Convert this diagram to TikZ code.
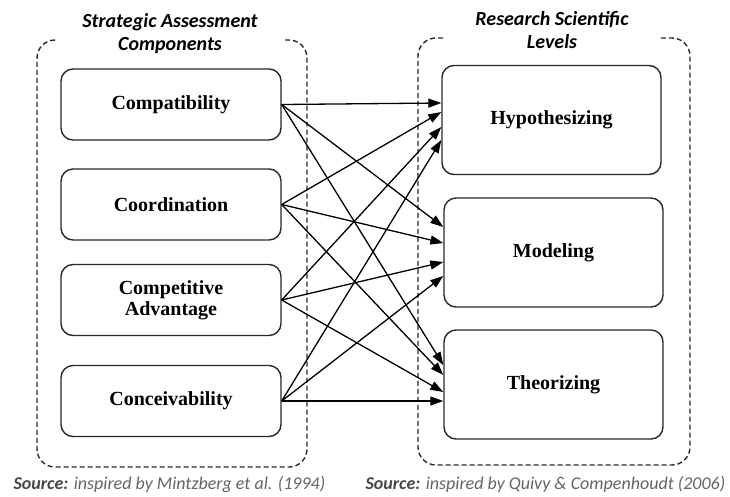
\documentclass[tikz,border=0pt]{standalone}
\usepackage{fontspec}
\setmainfont{Liberation Serif}
\newfontfamily\calibri{Carlito}
\usetikzlibrary{arrows.meta,calc}
\definecolor{BoxClr}{RGB}{40,40,40}
\definecolor{SrcClr}{RGB}{100,100,100}
\definecolor{SrcDark}{RGB}{70,70,70}

\tikzset{
  comp/.style={draw=BoxClr,line width=1.4pt,rounded corners=12pt,minimum width=220pt,
    minimum height=71pt,align=center,font=\fontsize{20}{21}\selectfont\bfseries},
  level/.style={comp,minimum width=219pt,minimum height=109pt},
  link/.style={line width=1.3pt,-{Triangle[length=13pt,width=9pt]}},
  frame/.style={draw=BoxClr,line width=1.4pt,dash pattern=on 5pt off 3pt,rounded corners=18pt},
  heading/.style={align=center,font=\calibri\fontsize{20}{23}\selectfont\bfseries\itshape},
  source/.style={anchor=west,text=SrcClr,font=\calibri\fontsize{18}{20}\selectfont\itshape}
}

\begin{document}
\begin{tikzpicture}[x=1pt,y=-1pt]
\useasboundingbox (0,0) rectangle (730,496);

% headings
\node[heading] (lhead) at (170,34) {Strategic Assessment\\Components};
\node[heading] (rhead) at (552,30.5) {Research Scientific\\Levels};

% dashed frames
\draw[frame] (55,40) -- (37,40) -- (37,467) -- (307,467) -- (307,40) -- (285,40);
\draw[frame] (443,38) -- (418,38) -- (418,465) -- (690,465) -- (690,38) -- (660,38);

% components
\node[comp] (cpt) at (171,104.5) {Compatibility};
\node[comp] (crd) at (171,204.5) {Coordination};
\node[comp] (cad) at (171,300) {Competitive\\Advantage};
\node[comp] (cnv) at (171,401) {Conceivability};

% levels
\node[level] (hyp) at (551.5,120) {Hypothesizing};
\node[level] (mod) at (553.5,252.5) {Modeling};
\node[level] (the) at (553.5,384.5) {Theorizing};

% links
\draw[link] (cpt.east) -- ($(hyp.west)+(0,-17)$);
\draw[link] (cpt.east) -- ($(mod.west)+(0,-25.5)$);
\draw[link] (cpt.east) -- ($(the.west)+(0,-19.5)$);

\draw[link] (crd.east) -- ($(hyp.west)+(0,-8)$);
\draw[link] (crd.east) -- ($(mod.west)+(0,-9.5)$);
\draw[link] (crd.east) -- ($(the.west)+(0,-9.5)$);

\draw[link] (cad.east) -- ($(hyp.west)+(0,7)$);
\draw[link] (cad.east) -- ($(mod.west)+(0,9.5)$);
\draw[link] (cad.east) -- ($(the.west)+(0,7.5)$);

\draw[link] (cnv.east) -- ($(hyp.west)+(0,20)$);
\draw[link] (cnv.east) -- ($(mod.west)+(0,23.5)$);
\draw[link] (cnv.east) -- ($(the.west)+(0,16.5)$);

% sources
\node[source] (lsrc) at (10,484) {{\color{SrcDark}\bfseries Source:} inspired by Mintzberg et al. (1994)};
\node[source] (rsrc) at (362,484) {{\color{SrcDark}\bfseries Source:} inspired by Quivy \& Compenhoudt (2006)};

\end{tikzpicture}
\end{document}
